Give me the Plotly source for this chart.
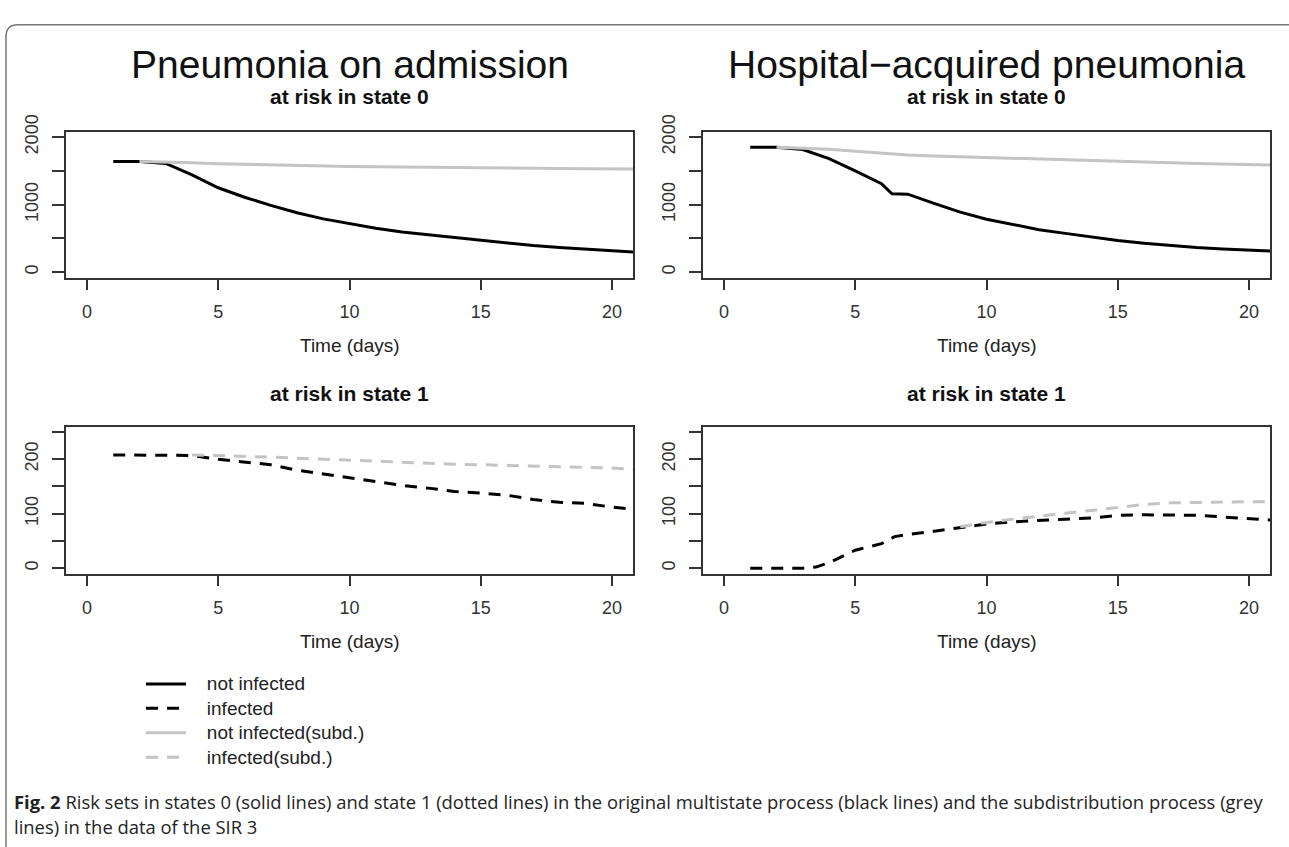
import plotly.graph_objects as go

W, H = 1289, 847

# ---------------- data ----------------
# Pneumonia on admission, state 0
pa_s0_days = [1, 2, 3, 4, 5, 6, 7, 8, 9, 10, 11, 12, 13, 14, 15, 16, 17, 18, 19, 20, 21]
pa_s0_not_inf = [1640, 1640, 1610, 1440, 1250, 1110, 990, 880, 790, 715, 650, 595, 555, 510, 470, 430, 395, 365, 340, 315, 295]
pa_s0_subd_days = [2, 3, 4, 5, 6, 7, 8, 9, 10, 11, 12, 13, 14, 15, 16, 17, 18, 19, 20, 21]
pa_s0_not_inf_subd = [1640, 1635, 1620, 1605, 1595, 1585, 1578, 1572, 1566, 1561, 1556, 1552, 1548, 1545, 1541, 1538, 1535, 1532, 1530, 1528]

# Hospital-acquired pneumonia, state 0
hap_s0_days = [1, 2, 3, 4, 5, 6, 6.4, 7, 8, 9, 10, 11, 12, 13, 14, 15, 16, 17, 18, 19, 20, 21]
hap_s0_not_inf = [1850, 1850, 1815, 1680, 1500, 1310, 1160, 1155, 1020, 890, 785, 705, 630, 575, 520, 470, 430, 395, 365, 345, 330, 312]
hap_s0_subd_days = [2, 3, 4, 5, 6, 6.5, 7, 8, 9, 10, 11, 12, 13, 14, 15, 16, 17, 18, 19, 20, 21]
hap_s0_not_inf_subd = [1850, 1840, 1820, 1790, 1760, 1740, 1735, 1720, 1708, 1695, 1683, 1672, 1662, 1652, 1640, 1630, 1620, 1610, 1600, 1592, 1585]

# Pneumonia on admission, state 1
pa_s1_days = [1, 2, 3, 4, 5, 6, 7, 8, 9, 10, 11, 12, 13, 14, 15, 16, 17, 18, 19, 20, 21]
pa_s1_inf = [208, 208, 208, 207, 200, 195, 190, 180, 173, 165, 158, 152, 147, 141, 138, 134, 126, 121, 119, 112, 107]
pa_s1_subd_days = [4, 5, 6, 7, 8, 9, 10, 11, 12, 13, 14, 15, 16, 17, 18, 19, 20, 21]
pa_s1_inf_subd = [208, 207, 205, 204, 202, 200, 198, 196, 194, 192, 191, 190, 189, 188, 187, 186, 184, 181]

# Hospital-acquired pneumonia, state 1
hap_s1_days = [1, 2, 3, 3.5, 4, 5, 6, 6.5, 7, 8, 9, 10, 11, 12, 13, 14, 15, 16, 17, 18, 19, 20, 21]
hap_s1_inf = [0, 0, 0, 2, 10, 33, 45, 58, 62, 68, 74, 81, 85, 88, 90, 92, 97, 98, 98, 97, 94, 91, 88]
hap_s1_subd_days = [9, 10, 11, 12, 13, 14, 15, 16, 17, 18, 19, 20, 21]
hap_s1_inf_subd = [76, 84, 90, 96, 101, 106, 112, 117, 120, 121, 121, 122, 122]

x_ticks = [0, 5, 10, 15, 20]
y_ticks_s0 = [0, 500, 1000, 1500, 2000]
y_labels_s0 = ["0", "", "1000", "", "2000"]
y_ticks_s1 = [0, 50, 100, 150, 200, 250]
y_labels_s1 = ["0", "", "100", "", "200", ""]

main_titles = ["Pneumonia on admission", "Hospital\u2212acquired pneumonia"]
sub_titles = ["at risk in state 0", "at risk in state 1"]
x_title = "Time (days)"
legend_names = ["not infected", "infected", "not infected(subd.)", "infected(subd.)"]
caption_1 = "<b>Fig. 2</b> Risk sets in states 0 (solid lines) and state 1 (dotted lines) in the original multistate process (black lines) and the subdistribution process (grey"
caption_2 = "lines) in the data of the SIR 3"

# ---------------- styling ----------------
BLACK = "#000000"
GREY = "#c4c4c4"
LW = 3
DASH = "12px,9px"
AX = "#333333"
FONT = "Liberation Sans, Arial, sans-serif"
PAD = "\u00a0\u00a0\u00a0"

# panel boxes in pixels: (left, right, top, bottom)
boxes = {
    1: (66, 633, 117, 266),
    2: (703, 1270, 117, 266),
    3: (66, 633, 418, 568),
    4: (703, 1270, 418, 568),
}

fig = go.Figure()


def add(panel, x, y, color, dash, name, show, rank):
    fig.add_trace(go.Scatter(
        x=x, y=y, mode="lines",
        line=dict(color=color, width=LW, dash=dash),
        name='<span style="font-size:19px">' + PAD + name + "</span>",
        legendgroup=name, showlegend=show, legendrank=rank,
        xaxis="x" if panel == 1 else f"x{panel}",
        yaxis="y" if panel == 1 else f"y{panel}",
        hoverinfo="skip",
    ))


add(1, pa_s0_days, pa_s0_not_inf, BLACK, "solid", legend_names[0], True, 1)
add(1, pa_s0_subd_days, pa_s0_not_inf_subd, GREY, "solid", legend_names[2], True, 3)
add(2, hap_s0_days, hap_s0_not_inf, BLACK, "solid", legend_names[0], False, 1)
add(2, hap_s0_subd_days, hap_s0_not_inf_subd, GREY, "solid", legend_names[2], False, 3)
add(3, pa_s1_days, pa_s1_inf, BLACK, DASH, legend_names[1], True, 2)
add(3, pa_s1_subd_days, pa_s1_inf_subd, GREY, DASH, legend_names[3], True, 4)
add(4, hap_s1_days, hap_s1_inf, BLACK, DASH, legend_names[1], False, 2)
add(4, hap_s1_subd_days, hap_s1_inf_subd, GREY, DASH, legend_names[3], False, 4)

layout = dict(
    width=W, height=H,
    margin=dict(l=0, r=0, t=0, b=0),
    paper_bgcolor="white", plot_bgcolor="white",
    font=dict(family=FONT, color=AX),
    showlegend=True,
    legend=dict(
        x=141 / W, y=1 - 663 / H, xanchor="left", yanchor="top",
        font=dict(size=16.5, family=FONT, color="#222"),
        bgcolor="rgba(0,0,0,0)", borderwidth=0,
        itemwidth=40, tracegroupgap=0,
    ),
)

for p, (l, r, t, b) in boxes.items():
    xa = "xaxis" if p == 1 else f"xaxis{p}"
    ya = "yaxis" if p == 1 else f"yaxis{p}"
    top_row = p in (1, 2)
    layout[xa] = dict(
        domain=[l / W, r / W], range=[-0.8, 20.8],
        anchor="y" if p == 1 else f"y{p}",
        tickvals=x_ticks, ticks="outside", ticklen=11, tickwidth=1.5, tickcolor=AX,
        showline=True, mirror=True, linecolor=AX, linewidth=1.5,
        showgrid=False, zeroline=False, ticklabelstandoff=6,
        tickfont=dict(size=18, family=FONT, color="#333"),
    )
    layout[ya] = dict(
        domain=[1 - b / H, 1 - t / H],
        range=[-80, 2080] if top_row else [-10, 260],
        anchor="x" if p == 1 else f"x{p}",
        tickvals=y_ticks_s0 if top_row else y_ticks_s1,
        ticktext=y_labels_s0 if top_row else y_labels_s1,
        ticks="outside", ticklen=12, tickwidth=1.5, tickcolor=AX,
        showline=True, mirror=True, linecolor=AX, linewidth=1.5,
        showgrid=False, zeroline=False, tickangle=-90, ticklabelstandoff=7,
        tickfont=dict(size=18, family=FONT, color="#333"),
    )

fig.update_layout(**layout)

ann = []
centers = [(66 + 633) / 2, (703 + 1270) / 2]
for i, cx in enumerate(centers):
    ann.append(dict(x=cx / W, y=1 - 48 / H, text=main_titles[i], showarrow=False,
                    xref="paper", yref="paper", xanchor="center", yanchor="middle",
                    font=dict(size=39, family=FONT, color="#111")))
    ann.append(dict(x=cx / W, y=1 - 81 / H, text="<b>" + sub_titles[0] + "</b>", showarrow=False,
                    xref="paper", yref="paper", xanchor="center", yanchor="middle",
                    font=dict(size=21, family=FONT, color="#111")))
    ann.append(dict(x=cx / W, y=1 - 384 / H, text="<b>" + sub_titles[1] + "</b>", showarrow=False,
                    xref="paper", yref="paper", xanchor="center", yanchor="middle",
                    font=dict(size=21, family=FONT, color="#111")))
    ann.append(dict(x=cx / W, y=1 - 335 / H, text=x_title, showarrow=False,
                    xref="paper", yref="paper", xanchor="center", yanchor="middle",
                    font=dict(size=19, family=FONT, color="#222")))
    ann.append(dict(x=cx / W, y=1 - 637 / H, text=x_title, showarrow=False,
                    xref="paper", yref="paper", xanchor="center", yanchor="middle",
                    font=dict(size=19, family=FONT, color="#222")))

ann.append(dict(x=12 / W, y=1 - 801 / H, text=caption_1, showarrow=False,
                xref="paper", yref="paper", xanchor="left", yanchor="middle",
                font=dict(size=18.4, family="Open Sans, sans-serif", color="#222")))
ann.append(dict(x=12 / W, y=1 - 826 / H, text=caption_2, showarrow=False,
                xref="paper", yref="paper", xanchor="left", yanchor="middle",
                font=dict(size=18.4, family="Open Sans, sans-serif", color="#222")))
fig.update_layout(annotations=ann)


# outer figure frame (rounded top-left corner)
def px(x):
    return x / W


def py(y):
    return 1 - y / H


frame = (f"M {px(6)},{py(847)} L {px(6)},{py(20)} Q {px(6)},{py(8)} {px(18)},{py(8)} "
         f"L {px(1289)},{py(8)}")
fig.add_shape(type="path", path=frame, xref="paper", yref="paper",
              line=dict(color="#777777", width=1.5))

fig.write_html("out.html", config={"displayModeBar": False},
               post_script="document.body.style.margin='0px';document.body.style.overflow='hidden';")
